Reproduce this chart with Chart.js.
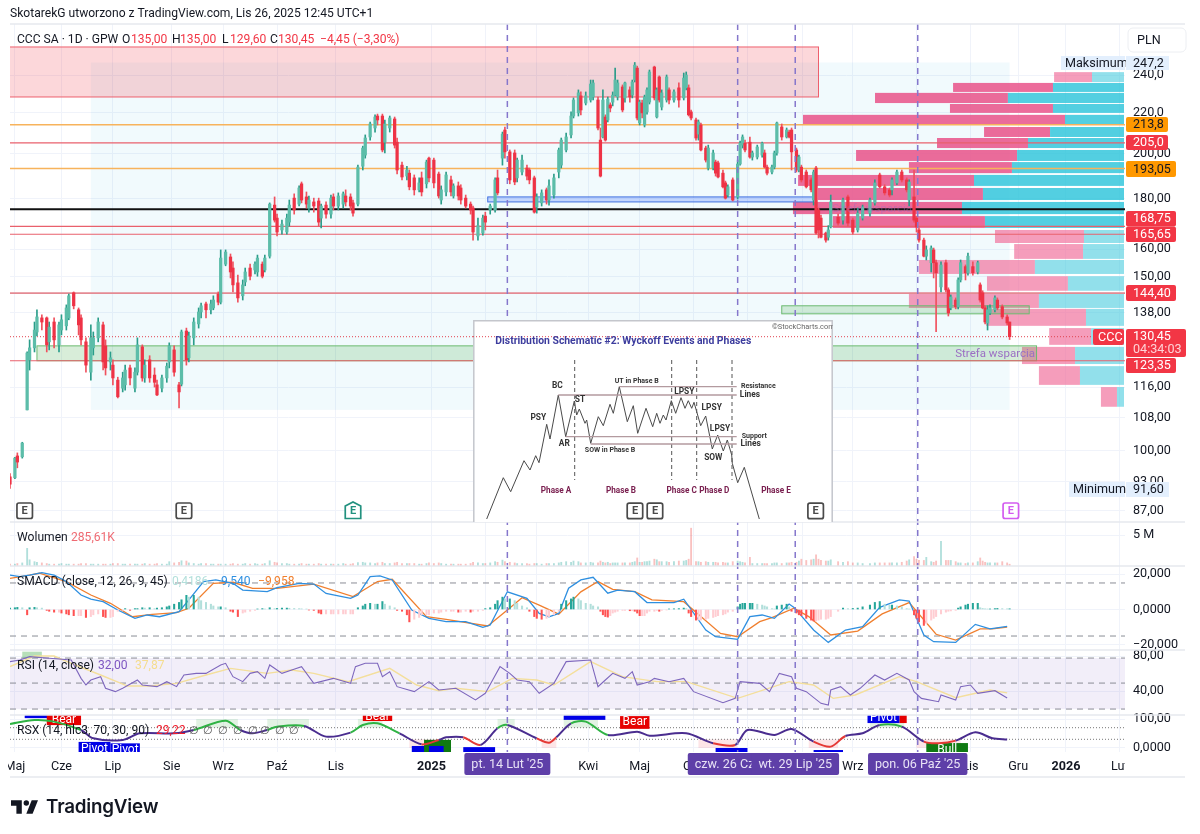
<!DOCTYPE html>
<html>
<head>
<meta charset="utf-8">
<title>CCC SA</title>
<script src="https://cdn.jsdelivr.net/npm/chart.js@4/dist/chart.umd.js"></script>
<style>
  body { margin: 0; background: #fff; overflow: hidden; }
  #main { position: absolute; left: 0; top: 0; }
  #inset { position: absolute; left: 473px; top: 320px; }
  #logo { position: absolute; left: 11px; top: 795px; display: flex; align-items: center; gap: 8px;
          font: 600 18.8px Inter, sans-serif; color: #131722; letter-spacing: -0.2px; }
</style>
</head>
<body>
<canvas id="main" width="1200" height="834"></canvas>
<canvas id="inset" width="360" height="202"></canvas>
<div id="logo"><svg width="27" height="14" viewBox="2 6 30 15"><path fill="#131722" d="M14 6H2v6h6v9h6V6Zm12 15h-7l6-15h7l-6 15Zm-7-9a3 3 0 1 0 0-6 3 3 0 0 0 0 6Z"/></svg><span>TradingView</span></div>
<script>
// candles (bar number counted from the left edge)
const candleBars = [
  0,2,3,5,7,8,10,11,13,15, 16,18,20,21,23,24,26,28,29,31, 33,34,36,38,39,41,42,44,46,47,
  49,51,52,54,55,57,59,60,62,64, 65,67,69,70,72,73,75,77,78,80, 82,83,85,86,88,90,91,93,95,96,
  98,100,101,103,104,106,108,109,111,113, 114,116,118,119,121,122,124,126,127,129, 131,132,134,136,137,139,140,142,144,145,
  147,149,150,152,153,155,157,158,160,162, 163,165,167,168,170,171,173,175,176,178, 180,181,183,184,186,188,189,191,193,194,
  196,198,199,201,202,204,206,207,209,211, 212,214,215,217,219,220,222,224,225,227, 229,230,232,233,235,237,
  238,240,241,242,243,244,245,246,247,248, 250,251,253,254,255,256,257,258,259,260,
  261,263,264,265,266,268,269,271,273,275, 276,277,278,280,281,282,284,285,287,288,
  289,291,292,293,295,297,298,299,300,302, 303,305,307,308,309,311,312,313,315,317,
  318,319,321,322,323,325,327,328,329,330, 331,333,334,335,338,340,342,344,346,348,
  351,353,355,357,359,360,362,364,366,367, 369,370,371,373,374,376,377,378,380,382,
  383,384,386,387,388,390,391,393,395,396, 397,398,399,400,402,403,405,407,408
];
const candleOpen = [
  94.1,93.9,98.8,98.6,110,123.6,127.1,131.9,136.3,136.3, 128.9,135,128,132.5,133.8,136.3,144.5,138.9,136.3,128.9,
  120.1,127.1,130.1,134.1,127.7,123,122.1,117.9,115.7,116.6, 121.3,115.7,120.1,127.4,118.5,123.6,119.3,116.6,115.7,118.5,
  123,126.5,116.6,116.8,132.2,124.2,130.1,134.4,138.2,140.8, 138.9,139.5,144.1,141.4,154.5,157.1,153.1,147.9,143.5,148.2,
  153.1,152.4,151.7,154.5,152.4,157.4,177.3,172,167.3,166.5, 170.4,180.2,177.7,186.3,180.7,176.1,178.6,179,172,177.3,
  173.6,180.7,176.9,177.7,181.1,180.7,178.2,177.7,194.1,199.2, 207.8,212.2,218.2,218.2,205.3,212.2,216.7,205.3,194.6,189.7,
  191,188.9,183.7,188.9,186.3,197.8,196.9,190.6,179.4,182.8, 188,181.1,185.4,184.5,180.2,177.7,176.1,165,166.1,172.8,
  175.3,175.3,188.9,197.8,211.2,200.7,200.2,188.9,191.5,193.3, 192.4,188.9,176.5,178.2,183.7,179.4,181.5,191.5,194.6,201.6,
  208.8,218.2,219.8,228.7,224.9,226.5,
  228.1,226.5,206.3,207.8,217.7,216.2,223.9,225.4,229.1,228.1, 233.5,227.6,231.9,229.1,237.3,244,214.7,224.9,213.7,220.3,
  225.4,244.6,217.7,239,222.8,226.5,231.9,226.5,233,227.6, 233,233,220.3,216.2,209.2,213.7,202.5,193.3,193.3,196,
  195.6,191,186.7,181.5,188,180.7,195.1,203.9,204.8,205.3, 198.3,198.3,199.2,200.2,193.7,191.5,193.7,200.2,212.7,207.8,
  210.2,211.2,201.6,192.4,193.7,191.5,188,179.4,193.3,175.3, 172,166.1,164.5,168.5,172.4,171.2,180.7,171.2,167.3,172,
  174,178.2,190.2,185,183.7,183.7,186.7,191.5,188,179.4, 180.7,172,167.3,163.4,157.4,155,159.7,155,146.5,155,
  145.5,139.5,142.1,139.9,148.9,153.6,151.4,153.6,151.7,147.2, 144.5,139.5,134.7,137.9,138.9,142.1,139.9,136.6,135
];
const candleHigh = [
  94.8,98.5,99.5,102,125.9,129.5,135,138.9,137.3,136.6, 135,136.3,135,137.3,140.5,144.1,144.8,139.5,137.3,130.1,
  134.1,131.9,136.3,135,129.5,125.9,123.6,118.7,120.1,122.1, 122.1,121.3,130.1,128,123.6,124.8,121.3,117.9,119.3,122.7,
  128.6,127.7,117.3,132.5,133.1,131.9,136.3,139.5,141.1,141.4, 142.1,143.5,144.8,159.7,159.7,158.2,155.3,150.6,148.9,153.1,
  154.5,155.3,157.8,155.3,157.8,178.2,180.7,173.6,171.2,173.6, 179.4,182,185.4,187.1,182.8,181.1,180.2,180.2,177.7,178.6,
  181.5,182,182.4,182.8,183.7,182,179.4,194.6,203.4,208.8, 215.2,218.8,219.2,219.2,216.2,218.2,217.7,207.3,196,194.1,
  192.4,190.2,188.9,191.5,196.9,198.3,197.8,191.5,185.4,191.5, 189.7,186.3,187.1,185.9,181.5,178.6,176.9,172,173.2,174.4,
  177.7,188.9,192.4,210.2,212.7,201.6,201.6,197.8,199.2,194.6, 193.3,189.7,182,183.7,184.5,188,190.6,202.5,207.3,209.7,
  220.3,227.6,231.9,230.8,230.8,237.3,
  237.3,228.1,212.2,231.9,218.8,228.1,225,230.8,244,237.3, 234.6,236.2,233.5,237.3,247.2,245.1,226.5,226.5,229.1,233,
  242.9,245.1,233,239.6,231.9,240.1,233,231.9,235.7,241.2, 241.8,234.6,221.3,217.2,216.2,214.7,203.4,203.9,201.6,196.9,
  196.5,192.4,187.5,185.9,188.9,196.9,205.8,208.8,206.3,207.8, 201.1,203.9,205.3,201.6,194.6,194.6,201.1,215.2,214.2,212.2,
  211.2,212.2,202.5,199.2,194.6,192.4,188.9,192.4,194.1,176.1, 173.2,166.5,169,181.5,173.6,180.2,181.5,172,176.1,177.3,
  180.2,188,191,185.9,184.5,188.9,192.4,192.4,188.9,188, 192.4,172.8,168.1,164.2,161.2,161.2,160.4,156,155.3,156,
  146.2,143.8,142.8,149.6,156,154.2,158.5,155.3,155.6,147.9, 145.2,140.2,140.2,140.5,143.5,142.8,140.5,137.3,135
];
const candleLow = [
  91.6,93.7,96.1,98.3,110,120.7,125.9,130.7,132.5,125.9, 126.5,127.1,125.9,131,132.5,135.7,139.2,131,128,120.1,
  117.9,125,128.9,120.7,119.3,120.7,116.6,113.1,114.7,115.2, 116.6,114.7,119.3,117.6,117.3,117.3,116,113.7,114.7,117.3,
  121.3,119,110.5,116.3,122.1,123,128,133.1,136.3,136.3, 137.6,138.9,140.5,140.8,153.9,149.6,144.8,141.4,142.1,146.9,
  148.9,151,150.2,149.6,151.7,156.7,170.4,165,165.7,165.7, 168.8,173.6,176.9,178.2,176.1,174.4,174.4,168.8,168.1,172,
  172,175.3,175.3,176.1,176.9,175.3,172.8,176.9,192.4,197.8, 206.3,210.2,213.7,200.7,200.2,210.2,202.5,190.6,188,188,
  183.7,181.5,182.8,181.1,184.5,187.1,184.5,180.2,177.7,181.1, 181.1,180.2,179.4,177.7,176.1,173.6,163.4,163.4,165.3,167.3,
  173.6,174.4,181.5,194.6,197.8,186.3,185.9,187.1,190.2,188, 186.3,174,174,176.9,177.7,177.3,180.2,188.9,193.3,200.7,
  207.3,217.2,218.2,218.8,223.9,225.4,
  226.5,211.2,189.3,207.3,205.8,215.2,220.3,223.4,228.7,226.5, 220.3,225.4,225.4,227.6,236.2,216.2,213.7,217.2,212.7,219.2,
  224.4,226.5,217.2,225.4,221.3,225.4,224.4,225.4,222.8,226.5, 231.9,218.2,216.2,206.3,206.3,201.1,196,192.4,192.4,189.7,
  188.9,184.5,179.8,180.7,179,179.8,194.6,202.5,200.7,197.8, 196.9,197.4,198.3,193.3,190.2,190.6,192.9,199.2,206.3,207.3,
  207.3,192.4,191.5,191.5,187.1,184.5,182.8,177.3,165.7,164.2, 164.2,162.6,163.4,168.1,169.2,169.6,168.8,165.7,166.5,171.2,
  172.8,177.3,184.5,181.5,180.7,181.5,185.9,187.1,182.8,176.9, 170.4,166.5,162.6,157.1,156,151.7,149.6,132,144.8,144.8,
  136.9,138.9,139.2,139.2,148.2,148.9,150.6,150.6,151,141.4, 139.2,134.4,132.5,137.3,138.2,138.9,136,134.1,129.6
];
const candleClose = [
  92.5,98.3,97.4,101.8,125.6,127.1,132.5,136.6,135,128, 133.4,129.5,134.1,135.7,139.5,143.5,140.2,134.1,129.5,122.1,
  130.1,130.1,135,123,121.3,124.2,118.5,113.4,118.5,120.7, 118.5,120.1,128,118.5,122.1,118.5,117.3,113.9,118.5,121.8,
  127.7,120.1,114.7,131.9,123.6,130.7,135,138.2,140.2,138.9, 140.8,142.1,141.4,156.7,158.9,151.7,147.2,142.8,147.2,151.7,
  150.2,154.5,156.7,150.2,156.7,177.7,171.2,166.5,169.6,172, 177.3,175.3,184.5,179.4,177.7,179.4,176.9,170.4,176.9,173.6,
  180.2,176.9,181.1,182,178.6,176.9,174,193.7,202.5,207.3, 214.2,217.7,216.2,201.6,214.2,217.2,203.9,192.4,189.3,192.4,
  185,183.7,186.7,182.8,196,188.9,186.7,181.1,183.7,190.2, 182.8,185.4,181.1,179.4,176.9,175.3,166.5,169,172,170.4,
  176.9,188,182.4,209.2,200.7,188,187.1,196.9,196.9,189.7, 188,174.4,180.7,182.4,179.4,185.4,188.9,201.6,206.3,207.8,
  218.2,226.5,230.3,221.3,228.7,235.1,
  235.7,212.2,189.7,226.5,206.3,227,222.3,229.1,237.3,235.7, 221.3,235.7,228.1,236.2,245.7,217.2,225.4,219.8,228.1,231.9,
  241.8,227.6,231.9,226.5,230.3,239,226.5,230.8,226.5,238.4, 240.1,218.8,217.2,207.3,215.2,201.6,196.9,202.5,200.2,191,
  189.3,185,180.2,185,179.4,195.1,204.8,207.8,201.6,198.3, 200.2,203,204.8,193.7,191,193.7,200.2,214.7,207.8,211.2,
  207.8,200.7,192.4,198.3,188,185,183.7,191.5,166.1,167.3, 164.5,163.4,167.3,178.6,170,179.4,170,166.5,174,176.5,
  179.4,186.7,185,182.4,181.5,188,191.5,188,183.7,187.1, 171.2,168.5,163.4,157.4,159.7,160.4,155,151.4,154.2,145.5,
  137.9,143.1,139.9,148.9,155,151.4,157.4,151.4,155,142.1, 139.5,135,138.9,139.5,142.8,139.5,136.6,134.7,130.45
];

// volume in millions, same bars as the candles
const volumeValues = [
  .3,.3,.4,.5,2.85,1,.7,.6,.5,.4, .3,.3,.3,.4,.3,.3,.3,.3,.4,.4, .3,.3,.3,.3,.3,.3,.4,.4,.3,.3, .3,.3,.3,.3,.4,.3,.3,.4,.3,.3,
  .7,.5,.6,.85,.8,.5,.4,.3,.4,.4, .3,.3,.3,.3,.3,.3,.4,.3,.3,.4, .3,.4,.3,.3,.4,.85,.6,.5,.4,.4, .3,.3,.3,.4,.3,.3,.3,.4,.3,.3,
  .3,.3,.3,.4,.3,.3,.4,.55,.6,.5, .5,.4,.5,.6,.4,.4,.5,.6,.4,.4, .4,.4,.3,.3,.4,.5,.4,.5,.4,.3, .3,.3,.3,.3,.3,.4,.6,.5,.4,.4,
  .5,.7,.6,.95,.7,.6,.5,.4,.4,.4, .3,.4,.4,.3,.4,.4,.4,.5,.6,.7, .6,.8,.7,.5,.5,.6,
  .5,.5,.8,.6,.5,.6,.4,.5,.5,.5, .5,.5,.5,.6,.7,1.3,.6,.6,.7,.7, .8,1.1,1,.7,.7,.7,.6,.7,.8,.8, .9,1.1,6.1,.7,.7,.6,.7,.6,.6,.6,
  .5,.6,.5,.5,.7,.8,.7,.6,.5,1.4, .4,.4,.4,.4,.4,.4,.5,.5,.4,.5, .5,.6,.6,.8,1.1,.9,1,1.1,1.8,1.1, .9,.8,.8,1,.7,.6,.7,.5,.5,.4,
  .4,.5,.5,.5,.5,.5,.5,.6,.8,1, 1.5,1.1,.9,.9,1.4,.7,.6,.8,4,.9, .9,.9,.7,.5,.5,.4,.5,.5,.7,1.3, .8,.6,.5,.5,.5,.5,.7,.5,.29
];

// SMACD histogram, same bars as the candles
const histValues = [
  .8,1,1.2,1,-3,1,1.2,1,.8,-.5, -1,-1.5,-1.5,-2,-2.5,-3,-3.5,-3.5,-3.5,-4.5, -4,-3,-2.5,-4,-4.5,-4.5,-4,-1,-.5,.5,
  -.5,.5,.5,1,.8,1,.5,.8,1,1.5, 2,3,4,5.5,8,7,8,7,5,4, 3,2,1.5,1.5,1,-1,-1.5,-4,-2,-1.5, -1,-.5,.3,.5,.3,1,.5,.6,.8,.8,
  .7,.6,.5,.4,.3,-.3,-.5,-2,-2.5,-2.5, -2.5,-2.5,-2.5,-2.5,-2.5,-2.5,-2.5,1,2,3, 3.5,3,3,4.5,3,2,1,-.5,-1,-3,
  -7,-5.5,-4.5,-3,-3,-3,-2,-2,-1.5,-1, -1,-1,-1.5,-1.5,-1,-1.5,-1,-1,-.5,.5, 1,3,5,7,6,6,5,3.5,2,1,
  -1,-4,-5,-5.5,-5,-4,-3,-1,3,5, 6,7,6,5,3.5,3,
  2,1.5,-1,-3,-4,-4.3,-3.5,-2,-1.5,-1, -.5,-.5,-.7,-.7,-1,-2,-3.5,-3.5,-3.5,-2, -1,-1,-.5,-1,-.5,-.3,.3,.4,.5,.8,
  .5,-2,-4,-6,-6,-6,-5.5,-5,-4.5,-4, -3.5,-3,-2.5,-1.5,-1,1.5,3,3.5,3.5,3.5, 3.5,3,2.5,2,1.5,.5,.3,2,2.5,3,
  1.5,-1,-2,-3,-3.5,-5,-6,-6.5,-6.5,-6, -5.5,-5.5,-5,-4,-1,.8,.5,.6,.8,1.5, 2.5,4,4.5,3,2.5,2.5,2,1.5,.5,.3,
  -3,-5,-7,-9,-8,-6,-5,-4,-2.5,-1.5, -1,-.8,-.5,.8,1.5,2.5,3,3.5,3.5,1, .6,.4,.3,.3,.5,.6,.5,.4,.4
];

const macdBars = [0,4,8,13,18,23,29,33,38,44,51,56,61,69,73,79,84,91,95,105,109,118,124,129,139,142,147,151,156,164,171,178,186,193,196,203,211,216,220,224,228,233,238,244,248,255,260,271,275,284,288,297,302,307,312,318,320,328,334,341,348,355,363,367,373,377,386,394,400,407];
const macdValues = [19.5,18.6,19.5,20.8,19.5,15.8,8.2,5.9,4.4,-.3,-5,-3.1,-4.1,-1.2,5.4,15.8,16.7,14.8,11,10.1,12.4,14.8,14.4,9.1,6.3,8.2,18.6,19,16.7,-.3,-5,-6.9,-6.9,-10.1,-8.8,10,6.3,-2.2,-4.1,-2.2,12,16.7,18.2,9.2,11,10.1,3.9,3.9,5.8,-11.6,-15.4,-16.9,-4,-3.1,-5,3.1,1.2,-11.6,-18.6,-11.6,-9.7,1.2,5.4,4.8,-14.4,-18.2,-18.6,-8.4,-10.9,-9.54];
const signalBars = [0,8,12,23,33,41,50,58,68,73,83,91,99,109,124,140,150,156,170,178,195,203,209,216,224,233,240,246,255,262,275,282,290,297,306,311,320,326,335,346,356,367,378,386,396,401,407];
const signalValues = [17.6,19.5,20.5,15.8,8.2,3.5,-4.1,-2.7,-1.8,.7,14.8,15.4,12,12,14.4,7.3,15.8,17.1,-4.1,-5.6,-9.3,-.3,6.7,2.5,-2.6,10,15.8,11.4,10.1,5.4,4.4,-4,-13.5,-15.4,-6.9,-4.6,.7,-4,-14.4,-12.2,-2.5,3.9,-14,-17.3,-11,-10.9,-9.96];

const rsiBars = [0,4,8,16,25,29,31,33,37,39,43,46,52,54,60,64,68,71,76,80,86,88,91,95,98,101,104,106,111,115,119,124,132,139,141,145,150,152,155,158,165,171,175,182,190,194,197,200,204,207,212,216,222,227,237,240,243,246,251,254,256,261,263,269,275,279,291,296,298,306,310,314,319,321,325,331,334,335,339,343,347,353,357,362,367,369,372,379,380,386,388,392,395,402,407];
const rsiValues = [73.6,75.5,79.3,77.4,75.5,54.5,46.9,52.6,56.4,43.1,39.3,43.1,52.6,46.9,45,50.7,45,58.3,60.2,60.2,69.8,71.7,56.4,50.7,60.2,62.1,54.5,69.8,60.2,64,67.9,48.8,54.5,48.8,67.9,71.7,71.7,56.4,62.1,45,39.3,50.7,41.2,43.1,29.8,37.4,52.6,67.9,60.2,52.6,50.7,37.4,48.8,73.6,75.5,45,52.6,60.2,54.5,62.1,46.9,50.7,54.5,50.7,54.5,39.3,26.7,31.6,50.7,48.8,39.3,60.2,56.4,43.1,39.3,25.9,24,41.2,45,35.5,43.1,58.3,52.6,60.2,52.6,39.3,31.6,27.8,35.5,29.8,45,46.9,37.4,40.4,32];
const rsiMaBars = [0,10,18,25,37,48,57,68,80,90,105,115,124,138,155,166,175,182,195,205,215,222,237,250,264,276,297,318,328,336,345,363,370,386,400,407];
const rsiMaValues = [67.9,80,80,71.7,58.3,45.7,45.7,48.8,58.3,65.9,60.2,64,60.2,50.7,65.9,46.9,40.4,43.1,39.3,54.5,52.6,46.9,73.6,56.4,50.7,50.7,31.6,50.7,46.9,31.6,35.5,56.4,50.7,32.4,41.2,37.87];

const rsxBars = [0,10,18,29,34,46,53,67,75,88,94,99,105,109,120,129,139,144,150,159,168,175,178,185,192,199,203,215,220,223,229,235,244,256,261,276,287,296,301,312,319,328,335,341,348,355,364,373,379,386,394,401,407];
const rsxValues = [82.8,96.6,90.9,62.1,33.4,27.7,50.6,50.6,62.1,94.3,62.1,50.6,62.1,73.6,76,39.2,53,79.4,85.1,50.6,12.7,27.7,36.9,36.9,10.4,67.9,79.4,33.4,18.5,36.9,85.1,90.9,44.9,56.4,42.6,50.6,16.2,10.4,62.1,44.9,65.6,21.9,4.7,41.4,50.6,79.4,73.6,22,16.2,25.4,54,33.4,29.22];
const rsxHighSpans = [[76,93],[105,122],[142,152],[199,206],[226,240],[351,365]];
const rsxLowSpans = [[163,175],[217,223],[281,297],[326,338],[370,388]];
const rsxNullBars = [75,81,87,93,99,104,110,116];

// volume profile, one row per price bucket
const vpTop = [241.7,235.7,230.3,224.4,218.8,212.7,207.3,201.6,196,190.2,184.5,178.6,172.8,167.3,161.9,156,150.2,144.5,139.2,133.1,127.4,121.8,116];
const vpBottom = [236.2,230.8,224.9,219.8,213.7,207.8,202.5,196.5,191,185.4,179.4,173.6,168.1,162.3,156.4,151,145.2,139.5,133.8,128,122.4,116.6,110.8];
const vpDown = [17,44.8,59.6,46.2,117.5,29.6,40.8,72.2,46.2,78.9,74,75.8,68.2,39.9,30.9,52,36.3,58.3,44.8,18.8,23.8,18.4,7.2];
const vpUp = [14.8,32.3,52.5,32.3,26.9,33.6,43.5,48.4,50.7,67.7,63.7,73.1,62.8,18.4,18.8,40.4,25.6,38.6,17.5,15.2,22.4,20.2,3.6];
const vpValueArea = [1, 12];

// horizontal levels and zones on the price panel
const levelPrices = [213.8,205,193.05,175.6,168.75,165.65,144.4,123.35];
const levelKinds = ['orange','red','orange','black','red','red','rose','red'];
const resistanceZone = [-3,330,256.3,228.1];
const supportZone = [11,419,127.7,123.35];
const lowerZone = [315,416,140.2,137.6];
const blueZone = [195,328,180.7,178.6];
const shadeRange = [33,408,247.2,110];
const lastPrice = 130.45;
const earningsBars = [6,71,140,408.5];
const earningsKinds = ['plain','plain','house','future'];

// vertical markers with their date labels
const markerBars = [203,297,320.5,370.5];
const markerLabels = ["pt. 14 Lut '25","czw. 26 Cze '25","wt. 29 Lip '25","pon. 06 Paź '25"];

// time axis
const monthBars = [2,21,42,66,87,109,133,172,194,215,236,257,279,301,323.5,344,370,392,411.5,431,453];
const monthLabels = ['Maj','Cze','Lip','Sie','Wrz','Paź','Lis','2025','Lut','Mar','Kwi','Maj','Cze','Lip','Sie','Wrz','Paź','Lis','Gru','2026','Lut'];
const yearLabels = ['2025','2026'];

// axis ticks
const priceTicks = [240,220,200,180,160,150,138,116,108,100,93,87];
const priceTickLabels = ['240,0','220,0','200,00','180,00','160,00','150,00','138,00','116,00','108,00','100,00','93,00','87,00'];
const volumeTicks = [5];
const volumeTickLabels = ['5 M'];
const macdTicks = [20,0,-20];
const macdTickLabels = ['20,000','0,0000','−20,000'];
const rsiTicks = [80,40];
const rsiTickLabels = ['80,00','40,00'];
const rsxTicks = [100,0];
const rsxTickLabels = ['100,00','0,0000'];

// tags that sit on the RSX pane: from bar, to bar, top, bottom, colour, text
const rsxTags = [
  [6,16,124,103,'#0000e6',''], [15,29,117,79,'#e60000','Bear'], [28,41,21,-28,'#0000e6','Pivot'], [41,53,16,-28,'#0000e6','Pivot'],
  [144,156,124,93,'#e60000','Bear'], [164,177,7,-28,'#0000e6',''], [169,180,28,-28,'#0f7a12',''], [171,177,7,-28,'#0000e6',''],
  [185,198,3,-28,'#0000e6',''], [226,243,124,97,'#0000e6',''], [249,261,110,66,'#e60000','Bear'], [288,301,0,-28,'#0000e6',''],
  [328,340,-7,-28,'#0000e6',''], [363,366,124,86,'#e60000',''], [350,363,124,86,'#0000e6','Pivot'], [374,391,17,-28,'#0f7a12','Bull']
];

const UI = 'Roboto, "Liberation Sans", sans-serif';
const INK = '#131722';
const RED = '#f23645';
const GRID = '#f0f3fa';
const TAG_FONT = '12.6px ' + UI;

function put(ctx, text, x, y, font, color, align) {
  ctx.font = font;
  ctx.fillStyle = color;
  ctx.textAlign = align || 'left';
  ctx.textBaseline = 'middle';
  ctx.fillText(text, x, y);
}

function badge(ctx, text, x, y, w, h, bg, fg, radius, pad) {
  ctx.fillStyle = bg;
  ctx.beginPath();
  ctx.roundRect(x, y, w, h, radius === undefined ? 2 : radius);
  ctx.fill();
  put(ctx, text, x + (pad === undefined ? 7 : pad), y + h / 2 + 0.5, TAG_FONT, fg);
}

function boxRange(ctx, x, y, range, fill, stroke) {
  const l = x(range[0]), r = x(range[1]), t = y(range[2]), b = y(range[3]);
  ctx.fillStyle = fill;
  ctx.fillRect(l, t, r - l, b - t);
  ctx.strokeStyle = stroke;
  ctx.lineWidth = 1;
  ctx.strokeRect(l, t, r - l, b - t);
}

const overlay = {
  id: 'overlay',
  beforeDatasetsDraw(chart) {
    const { ctx, chartArea: a, scales: s } = chart;
    const x = v => s.x.getPixelForValue(v);
    const y = v => s.y.getPixelForValue(v);
    ctx.save();

    // pale box behind the price
    ctx.fillStyle = 'rgba(0,172,214,0.055)';
    ctx.fillRect(x(shadeRange[0]), y(shadeRange[2]), x(shadeRange[1]) - x(shadeRange[0]), y(shadeRange[3]) - y(shadeRange[2]));

    // volume profile
    vpTop.forEach((top, i) => {
      const strong = i >= vpValueArea[0] && i <= vpValueArea[1];
      const t = y(top), h = y(vpBottom[i]) - t;
      const edge = s.xVp.getPixelForValue(0);
      const split = s.xVp.getPixelForValue(vpUp[i]);
      const left = s.xVp.getPixelForValue(vpUp[i] + vpDown[i]);
      ctx.fillStyle = strong ? 'rgba(233,84,138,0.86)' : 'rgba(240,110,155,0.68)';
      ctx.fillRect(left, t, split - left, h);
      ctx.fillStyle = strong ? 'rgba(40,195,218,0.8)' : 'rgba(60,200,220,0.56)';
      ctx.fillRect(split, t, edge - split - 1, h);
    });

    // zones
    ctx.save();
    ctx.beginPath();
    ctx.rect(a.left, a.top, a.right - a.left, a.bottom - a.top);
    ctx.clip();
    boxRange(ctx, x, y, resistanceZone, 'rgba(242,54,69,0.2)', '#ee5f6c');
    boxRange(ctx, x, y, supportZone, 'rgba(76,175,80,0.22)', '#6cbb70');
    boxRange(ctx, x, y, lowerZone, 'rgba(76,175,80,0.22)', '#6cbb70');
    boxRange(ctx, x, y, blueZone, 'rgba(41,98,255,0.24)', '#3f70e0');
    ctx.restore();

    // levels
    const levelStyle = {
      orange: ['#f7b35c', 1.5], red: ['#e9606c', 1.2], black: ['#111', 2], rose: ['#e48a93', 1.6]
    };
    levelPrices.forEach((p, i) => {
      const st = levelStyle[levelKinds[i]];
      ctx.strokeStyle = st[0];
      ctx.lineWidth = st[1];
      ctx.beginPath();
      ctx.moveTo(a.left, y(p));
      ctx.lineTo(a.right, y(p));
      ctx.stroke();
    });

    // last price
    ctx.strokeStyle = '#e0424f';
    ctx.lineWidth = 1;
    ctx.setLineDash([1, 2]);
    ctx.beginPath();
    ctx.moveTo(a.left, y(lastPrice));
    ctx.lineTo(a.right, y(lastPrice));
    ctx.stroke();
    ctx.setLineDash([]);

    // SMACD bands
    ctx.strokeStyle = '#8a8d96';
    ctx.lineWidth = 1;
    ctx.setLineDash([6, 5]);
    [15, -15].forEach(v => {
      ctx.beginPath();
      ctx.moveTo(a.left, s.yMacd.getPixelForValue(v));
      ctx.lineTo(a.right, s.yMacd.getPixelForValue(v));
      ctx.stroke();
    });

    // RSI band
    const rTop = s.yRsi.getPixelForValue(77.7), rBot = s.yRsi.getPixelForValue(19.4);
    ctx.fillStyle = 'rgba(126,87,194,0.1)';
    ctx.fillRect(a.left, rTop, a.right - a.left, rBot - rTop);
    [77.7, 49.1, 19.4].forEach(v => {
      ctx.beginPath();
      ctx.moveTo(a.left, s.yRsi.getPixelForValue(v));
      ctx.lineTo(a.right, s.yRsi.getPixelForValue(v));
      ctx.stroke();
    });
    ctx.setLineDash([]);
    ctx.fillStyle = 'rgba(76,175,80,0.4)';
    ctx.fillRect(x(5), s.yRsi.getPixelForValue(85), x(13) - x(5), s.yRsi.getPixelForValue(77.7) - s.yRsi.getPixelForValue(85));

    // RSX pane
    const q = s.yRsx;
    ctx.save();
    ctx.beginPath();
    ctx.rect(a.left, q.top, a.right - a.left, q.bottom - q.top);
    ctx.clip();
    ctx.fillStyle = 'rgba(76,175,80,0.16)';
    rsxHighSpans.forEach(sp => ctx.fillRect(x(sp[0]), q.getPixelForValue(100), x(sp[1]) - x(sp[0]), q.getPixelForValue(70) - q.getPixelForValue(100)));
    ctx.fillStyle = 'rgba(242,54,69,0.13)';
    rsxLowSpans.forEach(sp => ctx.fillRect(x(sp[0]), q.getPixelForValue(30), x(sp[1]) - x(sp[0]), q.getPixelForValue(0) - q.getPixelForValue(30)));
    ctx.strokeStyle = '#777';
    ctx.setLineDash([1, 2]);
    [70, 30].forEach(v => {
      ctx.beginPath();
      ctx.moveTo(a.left, q.getPixelForValue(v));
      ctx.lineTo(a.right, q.getPixelForValue(v));
      ctx.stroke();
    });
    ctx.setLineDash([]);
    rsxTags.forEach(t => {
      ctx.fillStyle = t[4];
      ctx.fillRect(x(t[0]), q.getPixelForValue(t[2]), x(t[1]) - x(t[0]), q.getPixelForValue(t[3]) - q.getPixelForValue(t[2]));
      if (t[5]) put(ctx, t[5], (x(t[0]) + x(t[1])) / 2, (q.getPixelForValue(t[2]) + q.getPixelForValue(t[3])) / 2, '12px ' + UI, '#fff', 'center');
    });
    ctx.restore();
    ctx.restore();
  },
  afterDatasetsDraw(chart) {
    const { ctx, chartArea: a, scales: s } = chart;
    ctx.save();
    ctx.strokeStyle = '#8577cc';
    ctx.lineWidth = 1.5;
    ctx.setLineDash([6, 5]);
    markerBars.forEach(b => {
      const px = s.x.getPixelForValue(b);
      ctx.beginPath();
      ctx.moveTo(px, a.top);
      ctx.lineTo(px, a.bottom);
      ctx.stroke();
    });
    ctx.restore();
  },
  afterDraw(chart) {
    const { ctx, chartArea: a, scales: s, width: W } = chart;
    const x = v => s.x.getPixelForValue(v);
    ctx.save();

    // pane separators
    ctx.strokeStyle = '#e6e8ee';
    ctx.lineWidth = 1.5;
    [a.top, s.y.bottom, s.yVol.bottom, s.yMacd.bottom, s.yRsi.bottom, a.bottom + 25].forEach(py => {
      ctx.beginPath();
      ctx.moveTo(a.left, py);
      ctx.lineTo(W - 15, py);
      ctx.stroke();
    });

    // cut the time axis at the chart edges
    ctx.fillStyle = '#fff';
    ctx.fillRect(0, a.bottom + 1, 8, 23);
    ctx.fillRect(a.right, a.bottom + 1, 60, 23);

    // header
    const lf = '12.1px ' + UI;
    put(ctx, 'SkotarekG utworzono z TradingView.com, Lis 26, 2025 12:45 UTC+1', 10, 14, lf, INK);
    put(ctx, 'CCC SA · 1D · GPW', 17, 39.5, lf, INK);
    [['O', 122], ['H', 172], ['L', 222], ['C', 270]].forEach(p => put(ctx, p[0], p[1], 39.5, lf, INK));
    [['135,00', 131], ['135,00', 180], ['129,60', 230], ['130,45', 278], ['−4,45 (−3,30%)', 320]].forEach(p => put(ctx, p[0], p[1], 39.5, lf, RED));

    // pane legends
    put(ctx, 'Wolumen', 17, 538, lf, INK);
    put(ctx, '285,61K', 71, 538, lf, '#ef6a72');
    put(ctx, 'SMACD (close, 12, 26, 9, 45)', 17, 582, lf, INK);
    put(ctx, '0,4186', 172, 582, lf, '#b2dfdb');
    put(ctx, '9,540', 221, 582, lf, '#2e8fe0');
    put(ctx, '−9,958', 258, 582, lf, '#f07f2e');
    put(ctx, 'RSI (14, close)', 17, 666, lf, INK);
    put(ctx, '32,00', 98, 666, lf, '#7e57c2');
    put(ctx, '37,87', 135, 666, lf, '#f5dd8f');
    put(ctx, 'RSX (14, hlc3, 70, 30, 90)', 17, 731, lf, INK);
    put(ctx, '29,22', 156, 731, lf, '#f01c2c');
    rsxNullBars.forEach(b => put(ctx, '∅', x(b), 731, '11px ' + UI, '#555', 'center'));

    // labels on the price pane
    put(ctx, 'Strefa wsparcia', 1035, 354, '11.5px ' + UI, '#9b6fc4', 'right');
    put(ctx, 'Strefa wsparcia', 912, 209, '11.5px ' + UI, 'rgba(156,111,196,0.45)', 'right');

    // earnings marks
    const eTop = 503, eSize = 15.5;
    earningsBars.forEach((b, i) => {
      const kind = earningsKinds[i], cx = x(b);
      const color = kind === 'house' ? '#22917f' : kind === 'future' ? '#d35cf0' : '#4a4a4a';
      ctx.strokeStyle = color;
      ctx.lineWidth = 1.7;
      ctx.fillStyle = '#fff';
      ctx.beginPath();
      if (kind === 'house') {
        ctx.moveTo(cx - eSize / 2, eTop + 3);
        ctx.lineTo(cx, eTop - 1);
        ctx.lineTo(cx + eSize / 2, eTop + 3);
        ctx.lineTo(cx + eSize / 2, eTop + eSize);
        ctx.lineTo(cx - eSize / 2, eTop + eSize);
        ctx.closePath();
      } else {
        ctx.roundRect(cx - eSize / 2, eTop, eSize, eSize, 2);
      }
      ctx.fill();
      ctx.stroke();
      put(ctx, 'E', cx, eTop + eSize / 2 + 0.5, 'bold 11px ' + UI, color, 'center');
    });

    // price scale tags
    const ax = a.right + 1;
    ctx.strokeStyle = '#eceef2';
    ctx.lineWidth = 1;
    ctx.beginPath();
    ctx.roundRect(1128, 28, 58, 24, 5);
    ctx.stroke();
    put(ctx, 'PLN', 1137, 40.5, TAG_FONT, INK);
    badge(ctx, 'Maksimum', 1061, 56, 64, 14, '#e3effd', INK, 0, 4);
    badge(ctx, '247,2', ax, 56, 43, 14, '#e3effd', INK, 0);
    badge(ctx, 'Minimum', 1069, 482, 56, 15, '#e3effd', INK, 0, 4);
    badge(ctx, '91,60', ax, 482, 43, 15, '#e3effd', INK, 0);
    badge(ctx, '213,8', ax, 117, 42, 15, '#ff9800', INK);
    badge(ctx, '205,0', ax, 135, 42, 15, RED, '#fff');
    badge(ctx, '193,05', ax, 161, 50, 16, '#ff9800', INK);
    badge(ctx, '168,75', ax, 211, 50, 15.5, RED, '#fff');
    badge(ctx, '165,65', ax, 226.5, 50, 15.5, RED, '#fff');
    badge(ctx, '144,40', ax, 285, 50, 16, RED, '#fff');
    badge(ctx, 'CCC', 1093, 329, 31, 16, RED, '#fff', 2, 5);
    ctx.fillStyle = RED;
    ctx.beginPath();
    ctx.roundRect(ax, 329, 60, 28, 2);
    ctx.fill();
    put(ctx, '130,45', ax + 7, 337, TAG_FONT, '#fff');
    put(ctx, '04:34:03', ax + 7, 349.5, TAG_FONT, '#ffd2d6');
    badge(ctx, '123,35', ax, 358, 50, 15, RED, '#fff');

    // date tags on the time axis
    markerLabels.forEach((t, i) => {
      ctx.font = TAG_FONT;
      const w = ctx.measureText(t).width + 14, cx = x(markerBars[i]);
      ctx.fillStyle = '#5e3fa8';
      ctx.beginPath();
      ctx.roundRect(cx - w / 2, a.bottom + 1, w, 22, 2);
      ctx.fill();
      put(ctx, t, cx, a.bottom + 13, TAG_FONT, '#e8e2f6', 'center');
    });
    ctx.restore();
  }
};

function tickAxis(values, labels, extra) {
  return Object.assign({
    type: 'linear',
    position: 'right',
    stack: 'panes',
    bounds: 'data',
    border: { display: false },
    grid: { color: GRID, drawTicks: false },
    afterBuildTicks: s => { s.ticks = values.map(v => ({ value: v })); },
    afterFit: s => { s.width = 75; s.paddingTop = 0; s.paddingBottom = 0; },
    ticks: {
      color: INK,
      font: { family: UI, size: 12.6 },
      padding: 8,
      autoSkip: false,
      maxRotation: 0,
      callback: v => labels[values.indexOf(v)]
    }
  }, extra);
}

const candlePoints = (a, b) => candleBars.map((d, i) => ({ x: d, y: [a[i], b[i]] }));
const linePoints = (bars, vals) => bars.map((d, i) => ({ x: d, y: vals[i] }));
const isUp = i => candleClose[i] >= candleOpen[i];

new Chart(document.getElementById('main'), {
  type: 'bar',
  data: {
    datasets: [
      {
        label: 'Knoty',
        data: candlePoints(candleLow, candleHigh),
        grouped: false,
        maxBarThickness: 1,
        barThickness: 1,
        backgroundColor: candleBars.map((d, i) => isUp(i) ? '#2a9d8a' : '#f0515e'),
        yAxisID: 'y',
        order: 2
      },
      {
        label: 'CCC SA',
        data: candlePoints(candleOpen, candleClose),
        grouped: false,
        maxBarThickness: 2.6,
        barThickness: 2.6,
        minBarLength: 1,
        backgroundColor: candleBars.map((d, i) => isUp(i) ? '#5cbda9' : '#ee3346'),
        yAxisID: 'y',
        order: 1
      },
      {
        label: 'Wolumen',
        data: linePoints(candleBars, volumeValues),
        grouped: false,
        maxBarThickness: 1.2,
        barThickness: 1.2,
        backgroundColor: candleBars.map((d, i) => isUp(i) ? 'rgba(38,166,154,0.36)' : 'rgba(239,83,80,0.36)'),
        yAxisID: 'yVol'
      },
      {
        label: 'Histogram',
        data: linePoints(candleBars, histValues),
        grouped: false,
        maxBarThickness: 1.4,
        barThickness: 1.4,
        backgroundColor: histValues.map((v, i) => {
          const prev = i ? histValues[i - 1] : 0;
          if (v >= 0) return v >= prev ? '#26a69a' : '#b2dfdb';
          return v < prev ? '#ff5252' : '#ffcdd2';
        }),
        yAxisID: 'yMacd'
      },
      { type: 'line', label: 'SMACD', data: linePoints(macdBars, macdValues), borderColor: '#2e8fe0', borderWidth: 1.3, pointRadius: 0, yAxisID: 'yMacd' },
      { type: 'line', label: 'Sygnał', data: linePoints(signalBars, signalValues), borderColor: '#f07f2e', borderWidth: 1.3, pointRadius: 0, yAxisID: 'yMacd' },
      { type: 'line', label: 'RSI', data: linePoints(rsiBars, rsiValues), borderColor: '#7e67bd', borderWidth: 1.1, pointRadius: 0, yAxisID: 'yRsi' },
      { type: 'line', label: 'RSI MA', data: linePoints(rsiMaBars, rsiMaValues), borderColor: '#f4df9c', borderWidth: 1.4, pointRadius: 0, yAxisID: 'yRsi' },
      {
        type: 'line',
        label: 'RSX',
        data: linePoints(rsxBars, rsxValues),
        borderColor: '#4a2d8f',
        borderWidth: 2,
        pointRadius: 0,
        tension: 0.3,
        yAxisID: 'yRsx',
        segment: {
          borderColor: c => {
            const m = (c.p0.parsed.y + c.p1.parsed.y) / 2;
            return m > 66 ? '#2fb344' : m < 30 ? '#e53935' : '#4a2d8f';
          }
        }
      }
    ]
  },
  options: {
    responsive: false,
    animation: false,
    events: [],
    layout: { padding: { left: 10, right: 0, top: 24, bottom: 57 } },
    plugins: { legend: { display: false }, tooltip: { enabled: false } },
    scales: {
      x: {
        type: 'linear',
        min: 0,
        max: 455.1,
        bounds: 'data',
        offset: false,
        border: { display: false },
        grid: { offset: false, color: GRID, drawTicks: false },
        afterBuildTicks: s => { s.ticks = monthBars.map(v => ({ value: v })); },
        afterFit: s => { s.height = 25; s.paddingLeft = 0; s.paddingRight = 0; },
        ticks: {
          color: INK,
          padding: 7,
          autoSkip: false,
          maxRotation: 0,
          font: c => ({
            family: UI,
            size: 12.6,
            weight: c.tick && yearLabels.includes(monthLabels[monthBars.indexOf(c.tick.value)]) ? 'bold' : 'normal'
          }),
          callback: v => monthLabels[monthBars.indexOf(v)]
        }
      },
      xVp: { type: 'linear', display: false, reverse: true, min: 0, max: 500, bounds: 'data', offset: false },
      y: tickAxis(priceTicks, priceTickLabels, { type: 'logarithmic', min: 84.7, max: 270.4, stackWeight: 498, weight: 1 }),
      yVol: tickAxis(volumeTicks, volumeTickLabels, { min: 0, max: 7.1, stackWeight: 44, weight: 2 }),
      yMacd: tickAxis(macdTicks, macdTickLabels, { min: -22.9, max: 24.6, stackWeight: 84, weight: 3 }),
      yRsi: tickAxis(rsiTicks, rsiTickLabels, { min: 12.6, max: 86.9, stackWeight: 65, weight: 4 }),
      yRsx: tickAxis(rsxTicks, rsxTickLabels, { min: -13.8, max: 113.8, stackWeight: 37, weight: 5 })
    }
  },
  plugins: [overlay]
});

// the schematic pasted over the chart, drawn in its own small chart
const schemeX = [13.7,30.3,37.7,51,57,62.7,66,73.7,77,85.3,92.7,101.3,103.7,106.3,112,113.7,117.7,125.3,130.3,137,140.3,146.3,154.3,160.3,164.7,173,179.7,183.7,187,190.3,193,198.3,202.7,208,212,215.3,218.7,221,223.7,227.7,232.7,239.3,244.7,250.3,254.3,258.7,259.3,264.7,271.3,286.3];
const schemeY = [199,157.7,171.7,140.7,150,135.7,142.7,104.3,119,75,116.7,81,95,89,103.3,100,123.3,96.7,105.7,84.3,93.3,66.7,101.7,85.7,113.3,88.3,106.7,93.3,103.3,95,100,80.7,93.3,77.7,88.3,80.7,88.3,82.3,91.7,105.7,96,129,115,131,120,135,143.3,162.7,147.3,199];
const schemeLevels = [[146.3,66.7],[85.3,75],[92.7,116.7],[117.7,124]];
const schemeLevelEnd = 263.7;
const schemeDividers = [101.7,198.7,223.7,259];
const schemeEarnings = [162,182,342.7];
const schemeWords = ['BC','PSY','ST','AR','SOW in Phase B','UT in Phase B','LPSY','LPSY','LPSY','SOW','Resistance','Lines','Support','Lines'];
const schemeWordX = [84.3,65.3,107,91.3,137,163.7,211.3,238.7,247,240.3,285.3,277,281.3,277.7];
const schemeWordY = [65.7,98.3,80,124.3,130.7,61,71.7,88.3,109.3,138.3,66.7,75,116.7,124.3];
const schemePhases = ['Phase A','Phase B','Phase C','Phase D','Phase E'];
const schemePhaseX = [83,148,208.7,241.3,303];
const schemePriceLine = 16.7;

const schemeText = {
  id: 'schemeText',
  beforeDatasetsDraw(chart) {
    const { ctx, width: W, height: H } = chart;
    ctx.save();
    ctx.fillStyle = '#fff';
    ctx.fillRect(0, 0, W, H);
    ctx.strokeStyle = '#c4c6cc';
    ctx.lineWidth = 1.5;
    ctx.beginPath();
    ctx.moveTo(0.8, H);
    ctx.lineTo(0.8, 0.8);
    ctx.lineTo(W - 0.8, 0.8);
    ctx.lineTo(W - 0.8, H);
    ctx.stroke();
    ctx.restore();
  },
  afterDraw(chart) {
    const { ctx, scales: s } = chart;
    const x = v => s.x.getPixelForValue(v), y = v => s.y.getPixelForValue(v);
    const f = 'Roboto, sans-serif';
    ctx.save();
    put(ctx, 'Distribution Schematic #2: Wyckoff Events and Phases', x(150.3), y(21.7), 'bold 10.4px ' + f, '#3d3d9e', 'center');
    put(ctx, '©StockCharts.com', x(330.3), y(6.7), '7.4px ' + f, '#666', 'center');
    schemeWords.forEach((w, i) => {
      const small = w.length > 5;
      put(ctx, w, x(schemeWordX[i]), y(schemeWordY[i]), (small ? 'bold 7px ' : 'bold 8.4px ') + f, '#333', 'center');
    });
    schemePhases.forEach((w, i) => put(ctx, w, x(schemePhaseX[i]), y(170.7), 'bold 8.2px ' + f, '#7a2050', 'center'));
    schemeEarnings.forEach(e => {
      ctx.strokeStyle = '#4a4a4a';
      ctx.lineWidth = 1.7;
      ctx.fillStyle = '#fff';
      ctx.beginPath();
      ctx.roundRect(x(e) - 7.8, y(191) - 7.8, 15.5, 15.5, 2);
      ctx.fill();
      ctx.stroke();
      put(ctx, 'E', x(e), y(191) + 0.5, 'bold 11px ' + UI, '#4a4a4a', 'center');
    });
    ctx.restore();
  }
};

new Chart(document.getElementById('inset'), {
  type: 'line',
  data: {
    datasets: [
      ...schemeLevels.map(l => ({
        data: [{ x: l[0], y: l[1] }, { x: schemeLevelEnd, y: l[1] }],
        borderColor: '#b39a9f', borderWidth: 1.3, pointRadius: 0
      })),
      ...schemeDividers.map(d => ({
        data: [{ x: d, y: 40 }, { x: d, y: 160 }],
        borderColor: '#555', borderWidth: 1, borderDash: [4, 3], pointRadius: 0
      })),
      { data: schemeX.map((v, i) => ({ x: v, y: schemeY[i] })), borderColor: '#4a4a4a', borderWidth: 1, pointRadius: 0 },
      {
        data: [{ x: 0, y: schemePriceLine }, { x: 360, y: schemePriceLine }],
        borderColor: '#e0424f', borderWidth: 1, borderDash: [1, 2], pointRadius: 0
      }
    ]
  },
  options: {
    responsive: false,
    animation: false,
    events: [],
    layout: { padding: 0 },
    plugins: { legend: { display: false }, tooltip: { enabled: false } },
    scales: {
      x: { type: 'linear', display: false, min: 0, max: 360 },
      y: { type: 'linear', display: false, min: 0, max: 202, reverse: true }
    }
  },
  plugins: [schemeText]
});
</script>
</body>
</html>
